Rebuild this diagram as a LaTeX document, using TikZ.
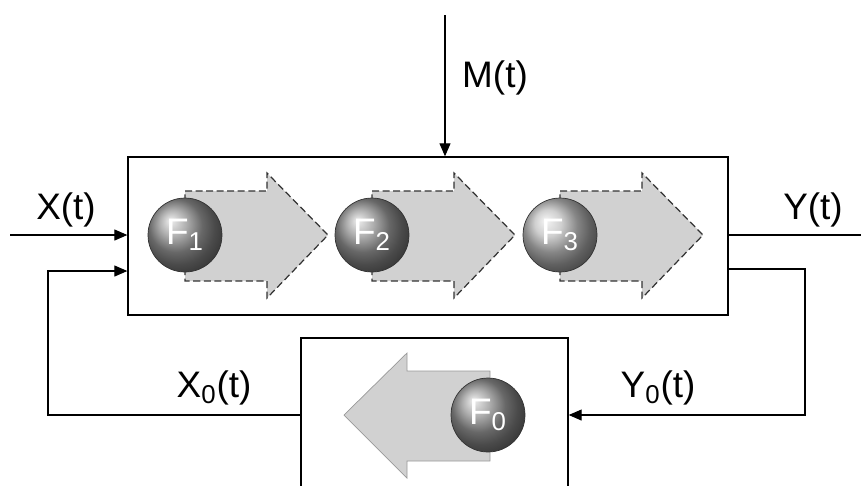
\documentclass[tikz,border=0pt]{standalone}
\usepackage{fontspec}
\setmainfont{Liberation Sans}
\usetikzlibrary{arrows.meta,positioning}

\begin{document}
\begin{tikzpicture}[
  x=0.02cm,y=-0.02cm,
  font=\fontsize{21}{25}\selectfont,
  >={Triangle[length=2.6mm,width=2.2mm]},
  block/.style={draw,line width=0.8pt,inner sep=0pt},
  link/.style={line width=0.6pt},
  stage/.style={circle,draw=black!80,line width=0.4pt,minimum size=1.48cm,
    inner sep=0pt,text=white,font=\fontsize{21}{24}\selectfont},
  flow/.style={fill=black!18,draw=black!80,dash pattern=on 4pt off 2pt,line width=0.7pt},
  backflow/.style={fill=black!18,draw=black!40,line width=0.4pt}
]
  \path[use as bounding box] (0,0) rectangle (861,485);
  \clip (0,0) rectangle (861,485);

  % plant and feedback blocks
  \node[block,minimum width=12cm,minimum height=3.16cm] (sys) at (428,236) {};
  \node[block,minimum width=5.34cm,minimum height=3.08cm] (fb) at (434.5,415) {};

  % forward stages
  \foreach \i/\cx/\tone in {1/185/black!42,2/372/black!42,3/560/black!25} {
    \filldraw[flow] (\cx,191) -- (\cx+82,191) -- (\cx+82,173) -- (\cx+143,235)
      -- (\cx+82,298) -- (\cx+82,281) -- (\cx,281) -- cycle;
    \node[stage,ball color=\tone] (f\i) at (\cx,235) {F\textsubscript{\i}};
  }

  % return stage
  \filldraw[backflow] (490,371) -- (407,371) -- (407,353) -- (344,415)
    -- (407,478) -- (407,461) -- (490,461) -- cycle;
  \node[stage,ball color=black!42] (f0) at (488,415) {F\textsubscript{0}};

  % signals
  \coordinate (xin) at (10,235);
  \coordinate (yout) at (861,235);
  \coordinate (min) at (445,15);
  \coordinate (xl) at (48,271);
  \coordinate (yr) at (805,269);

  \draw[link,->] (xin) -- (xin -| sys.west);
  \draw[link] (yout -| sys.east) -- (yout);
  \draw[link,->] (min) -- (min |- sys.north);
  \draw[link,->] (yr -| sys.east) -- (yr) |- (fb.east);
  \draw[link,->] (fb.west) -| (xl) -- (xl -| sys.west);

  \node (xlab) at (66,210) {X(t)};
  \node (ylab) at (813,210) {Y(t)};
  \node (mlab) at (495,78) {M(t)};
  \node (x0lab) at (214,388) {X\textsubscript{0}(t)};
  \node (y0lab) at (658,388) {Y\textsubscript{0}(t)};
\end{tikzpicture}
\end{document}
